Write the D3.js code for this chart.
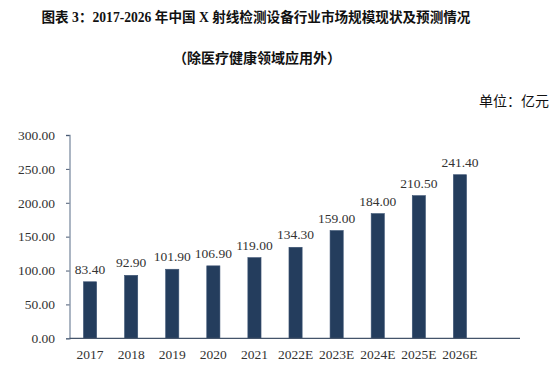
<!DOCTYPE html>
<html><head><meta charset="utf-8">
<script src="https://cdn.jsdelivr.net/npm/d3@7"></script>
<style>
html,body{margin:0;padding:0;background:#fff;}
svg{display:block;}
</style></head>
<body>
<svg id="c" width="557" height="369"></svg>
<script>
const categories = ["2017","2018","2019","2020","2021","2022E","2023E","2024E","2025E","2026E"];
const values = [83.40, 92.90, 101.90, 106.90, 119.00, 134.30, 159.00, 184.00, 210.50, 241.40];
const yTicks = [0, 50, 100, 150, 200, 250, 300];
const titleText = "图表 3：2017-2026 年中国 X 射线检测设备行业市场规模现状及预测情况";
const subtitleText = "（除医疗健康领域应用外）";
const unitText = "单位：亿元";

const svg = d3.select("#c");
const serif = "'Liberation Serif','Times New Roman',serif";
const cjk = "'Liberation Serif','Noto Sans CJK SC',sans-serif";

const x = d3.scaleBand().domain(categories).range([69.5, 480.5]).paddingInner(0.68).paddingOuter(0.34);
const y = d3.scaleLinear().domain([0, 300]).range([338.3, 135]);

// title
svg.append("text").attr("x", 256).attr("y", 22).attr("text-anchor", "middle")
  .attr("font-family", cjk).attr("font-weight", "bold").attr("font-size", 13.6).attr("fill", "#111")
  .text(titleText);
svg.append("text").attr("x", 257).attr("y", 63).attr("text-anchor", "middle")
  .attr("font-family", cjk).attr("font-weight", "bold").attr("font-size", 14).attr("fill", "#111")
  .text(subtitleText);
svg.append("text").attr("x", 549).attr("y", 106).attr("text-anchor", "end")
  .attr("font-family", "'Noto Sans CJK SC',sans-serif").attr("font-size", 14).attr("fill", "#111")
  .text(unitText);

// y axis
const yAxis = svg.append("g").attr("transform", "translate(69.5,0)")
  .call(d3.axisLeft(y).tickValues(yTicks).tickSize(3.5).tickPadding(11).tickFormat(d3.format(".2f")));
yAxis.select(".domain").attr("stroke", "#7f8ea3").attr("stroke-width", 1.3);
yAxis.selectAll(".tick line").attr("stroke", "#4a5a73");
yAxis.selectAll(".tick text").attr("font-family", serif).attr("font-size", 13.5).attr("fill", "#333");

// bars
svg.append("g").selectAll("rect").data(values).join("rect")
  .attr("x", (d, i) => x(categories[i]))
  .attr("width", x.bandwidth())
  .attr("y", d => y(d))
  .attr("height", d => y(0) - y(d))
  .attr("fill", "#243d5d")
  .attr("stroke", "#3a5272").attr("stroke-width", 0.6);

// x axis line
svg.append("line").attr("x1", 69.5).attr("x2", 520).attr("y1", y(0)).attr("y2", y(0))
  .attr("stroke", "#44546a").attr("stroke-width", 1.3);

// x labels
svg.append("g").selectAll("text").data(categories).join("text")
  .attr("x", d => x(d) + x.bandwidth() / 2).attr("y", 359)
  .attr("text-anchor", "middle").attr("font-family", serif).attr("font-size", 13.5).attr("fill", "#333")
  .text(d => d);

// value labels
svg.append("g").selectAll("text").data(values).join("text")
  .attr("x", (d, i) => x(categories[i]) + x.bandwidth() / 2).attr("y", d => y(d) - 8)
  .attr("text-anchor", "middle").attr("font-family", serif).attr("font-size", 13.5).attr("fill", "#333")
  .text(d => d3.format(".2f")(d));
</script>
</body></html>
